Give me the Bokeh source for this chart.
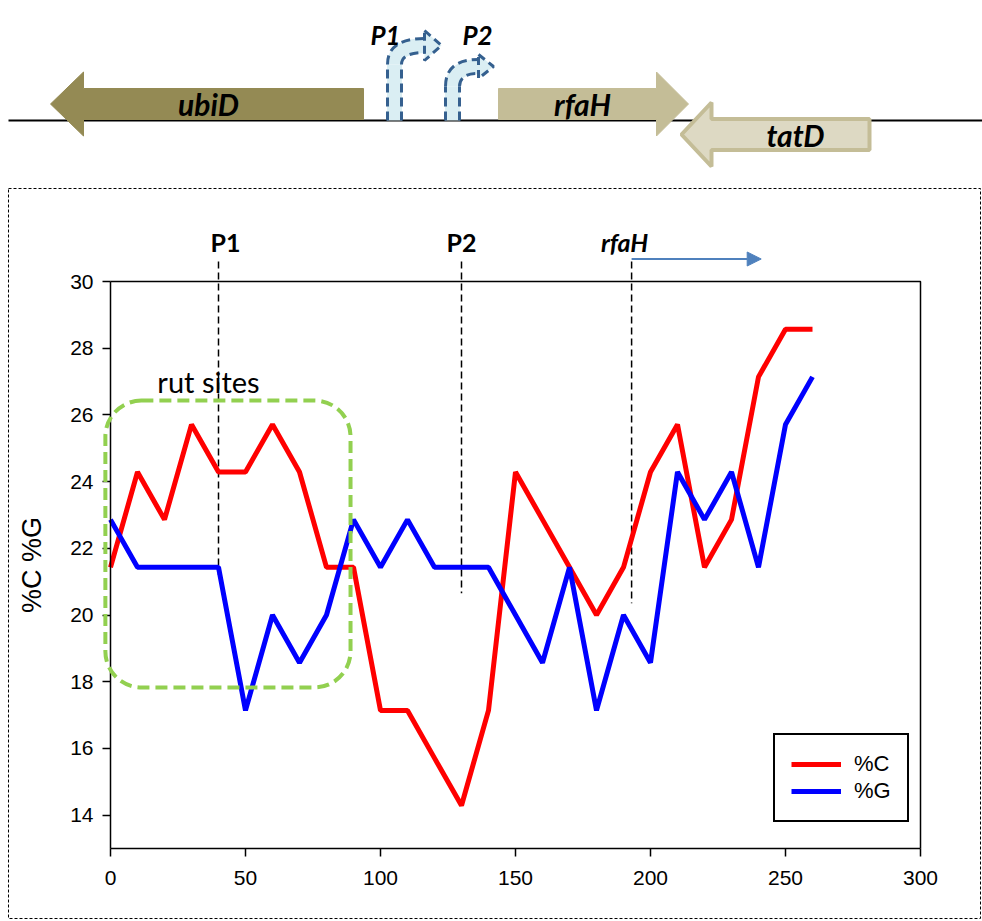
from bokeh.plotting import figure
from bokeh.models import (Range1d, FixedTicker, Arrow, NormalHead,
                          BoxAnnotation, LinearAxis)
from bokeh.core.properties import value
from bokeh.embed import file_html
from bokeh.resources import INLINE

# ---------------- data ----------------
positions = [0, 10, 20, 30, 40, 50, 60, 70, 80, 90, 100, 110, 120, 130,
             140, 150, 160, 170, 180, 190, 200, 210, 220, 230, 240, 250, 260]
pct_C = [21.43, 24.29, 22.86, 25.71, 24.29, 24.29, 25.71, 24.29, 21.43, 21.43,
         17.14, 17.14, 15.71, 14.29, 17.14, 24.29, 22.86, 21.43, 20.00, 21.43,
         24.29, 25.71, 21.43, 22.86, 27.14, 28.57, 28.57]
pct_G = [22.86, 21.43, 21.43, 21.43, 21.43, 17.14, 20.00, 18.57, 20.00, 22.86,
         21.43, 22.86, 21.43, 21.43, 21.43, 20.00, 18.57, 21.43, 17.14, 20.00,
         18.57, 24.29, 22.86, 24.29, 21.43, 25.71, 27.14]
x_ticks = [0, 50, 100, 150, 200, 250, 300]
y_ticks = [14, 16, 18, 20, 22, 24, 26, 28, 30]
X_MIN, X_MAX = 0, 300
Y_MIN, Y_MAX = 13, 30

marker_names = ["P1", "P2", "rfaH"]
marker_pos = [40, 130, 193]
marker_bottom = [21.2, 20.65, 20.35]
marker_top = 30.6
rfah_arrow_end = 241

# gene map (diagram pixel units)
gene_names = ["ubiD", "rfaH", "tatD"]
gene_tail = [363, 498, 869]
gene_base = [83, 656, 711]
gene_tip = [50, 688, 681]
gene_cy = [103.5, 103.5, 134]
gene_label_x = [208, 582, 795]
gene_fill = ["#948A54", "#C4BD97", "#DDD9C3"]
gene_line = ["#948A54", "#C4BD97", "#C4BD97"]
gene_lw = [1, 1, 4]

FONT_TXT = "Lato"
FONT_NUM = "Liberation Sans"

W, H = 982, 921
# plot box in canvas pixels
BOX_L, BOX_R, BOX_T, BOX_B = 110, 920, 281, 848
SX = (BOX_R - BOX_L) / (X_MAX - X_MIN)
SY = (BOX_B - BOX_T) / (Y_MAX - Y_MIN)


def dx(px):
    return X_MIN + (px - BOX_L) / SX


def dy(py):
    return Y_MAX - (py - BOX_T) / SY


p = figure(width=W, height=H, x_range=Range1d(dx(0), dx(W)), y_range=Range1d(dy(H), dy(0)),
           toolbar_location=None, output_backend="svg", min_border=0,
           x_axis_location=None, y_axis_location=None)
p.grid.visible = False
p.outline_line_color = None

# ---------------- gene diagram ----------------
p.line([dx(8), dx(982)], [dy(120), dy(120)], line_color="black", line_width=2)

bh, hh = 15.5, 32
xs, ys = [], []
for t, b, tp, cy in zip(gene_tail, gene_base, gene_tip, gene_cy):
    xs.append([dx(v) for v in [t, b, b, tp, b, b, t]])
    ys.append([dy(v) for v in [cy - bh, cy - bh, cy - hh, cy, cy + hh, cy + bh, cy + bh]])
p.patches(xs, ys, fill_color=gene_fill, line_color=gene_line, line_width=gene_lw)
p.text(x=[dx(v) for v in gene_label_x], y=[dy(v) for v in gene_cy],
       text=gene_names, text_font=value(FONT_TXT), text_font_style="bold italic",
       text_font_size="30px", text_align="center", text_baseline="middle", text_color="black")

LIGHT = "#DAEEF3"
DARK = "#35608F"
prom = [dict(cx=394, bend=64, ex=424, ey=45, tip=441, hh=15, name="P1", lx=385),
        dict(cx=452, bend=86, ex=478, ey=66, tip=493, hh=12, name="P2", lx=477)]
for pr in prom:
    cx, bend, ex, ey = pr["cx"], pr["bend"], pr["ex"], pr["ey"]
    p.line([dx(cx), dx(cx)], [dy(120), dy(bend)], line_color=LIGHT, line_width=15)
    p.quadratic(x0=[dx(cx)], y0=[dy(bend)], x1=[dx(ex + 2)], y1=[dy(ey)], cx=[dx(cx)],
                cy=[dy(ey)], line_color=LIGHT, line_width=15)
    p.patch([dx(ex), dx(pr["tip"]), dx(ex)], [dy(ey - pr["hh"]), dy(ey), dy(ey + pr["hh"])],
            fill_color=LIGHT, line_color=DARK, line_width=3, line_dash="8 5")
    for off in (-7, 7):
        p.line([dx(cx + off), dx(cx + off)], [dy(120), dy(bend)], line_color=DARK,
               line_width=3, line_dash="9 5")
        p.quadratic(x0=[dx(cx + off)], y0=[dy(bend)], x1=[dx(ex)], y1=[dy(ey + off)],
                    cx=[dx(cx + off)], cy=[dy(ey + off)], line_color=DARK, line_width=3,
                    line_dash="9 5")
p.text(x=[dx(pr["lx"]) for pr in prom], y=[dy(34), dy(34)], text=[pr["name"] for pr in prom],
       text_font=value(FONT_TXT), text_font_style="bold italic", text_font_size="26px",
       text_align="center", text_baseline="middle", text_color="black")

# ---------------- outer dashed frame ----------------
p.line([dx(8), dx(980), dx(980), dx(8), dx(8)], [dy(188), dy(188), dy(918), dy(918), dy(188)],
       line_color="black", line_width=1, line_dash="3 2")

# ---------------- chart axes & box ----------------
xaxis = LinearAxis(fixed_location=Y_MIN, bounds=(X_MIN, X_MAX), ticker=FixedTicker(ticks=x_ticks))
yaxis = LinearAxis(fixed_location=X_MIN, bounds=(Y_MIN, Y_MAX), ticker=FixedTicker(ticks=y_ticks))
for ax in (xaxis, yaxis):
    ax.axis_line_color = "black"
    ax.axis_line_width = 1.5
    ax.major_tick_line_color = "black"
    ax.major_tick_line_width = 1.5
    ax.major_tick_in = 0
    ax.major_tick_out = 8
    ax.minor_tick_line_color = None
    ax.major_label_text_font = FONT_NUM
    ax.major_label_text_font_size = "21px"
    ax.major_label_text_color = "black"
xaxis.major_label_standoff = 14
yaxis.major_label_standoff = 9
yaxis.axis_label = "%C %G"
yaxis.axis_label_text_font = FONT_NUM
yaxis.axis_label_text_font_size = "27px"
yaxis.axis_label_text_font_style = "normal"
yaxis.axis_label_text_color = "black"
yaxis.axis_label_standoff = 20
p.add_layout(xaxis, "below")
p.add_layout(yaxis, "left")

p.line([X_MIN, X_MAX, X_MAX], [Y_MAX, Y_MAX, Y_MIN], line_color="black", line_width=1.5)

# rut sites box
p.add_layout(BoxAnnotation(left=-1.9, right=88.9, top=26.43, bottom=17.83, border_radius=36,
                           fill_alpha=0, line_color="#92D050", line_alpha=1, line_width=4,
                           line_dash="12 6"))
p.text(x=[dx(208)], y=[dy(381)], text=["rut sites"], text_font=value(FONT_TXT),
       text_font_size="29px", text_align="center", text_baseline="middle",
       text_color="black")

# marker lines and labels
p.segment(x0=marker_pos, y0=[marker_top] * 3, x1=marker_pos, y1=marker_bottom,
          line_color="black", line_width=1.5, line_dash="7 4")
label_x = [m + o / SX for m, o in zip(marker_pos, [7, 0, -7])]
label_y = dy(241)
p.text(x=label_x[:2], y=[label_y] * 2, text=marker_names[:2], text_font=value(FONT_TXT),
       text_font_size="25px", text_font_style="bold", text_align="center",
       text_baseline="middle", text_color="black")
p.text(x=label_x[2:], y=[label_y], text=marker_names[2:], text_font=value(FONT_TXT),
       text_font_size="25px", text_font_style="bold italic", text_align="center",
       text_baseline="middle", text_color="black")
p.add_layout(Arrow(end=NormalHead(size=14, fill_color="#4F81BD", line_color="#4F81BD"),
                   x_start=marker_pos[2], y_start=dy(258.5), x_end=rfah_arrow_end,
                   y_end=dy(258.5), line_color="#4F81BD", line_width=2))

# data lines
p.line(positions, pct_C, line_color="#FF0000", line_width=5, legend_label="%C")
p.line(positions, pct_G, line_color="#0000FF", line_width=5, legend_label="%G")

lg = p.legend[0]
lg.location = (773, H - 822)
lg.border_line_color = "black"
lg.border_line_alpha = 1
lg.border_line_width = 2
lg.padding = 16
lg.margin = 0
lg.spacing = 1
lg.glyph_width = 50
lg.glyph_height = 24
lg.label_height = 24
lg.label_standoff = 13
lg.label_text_font = FONT_NUM
lg.label_text_font_size = "22px"
lg.label_text_color = "black"
lg.background_fill_alpha = 1

open("out.html", "w").write(file_html(p, INLINE))
